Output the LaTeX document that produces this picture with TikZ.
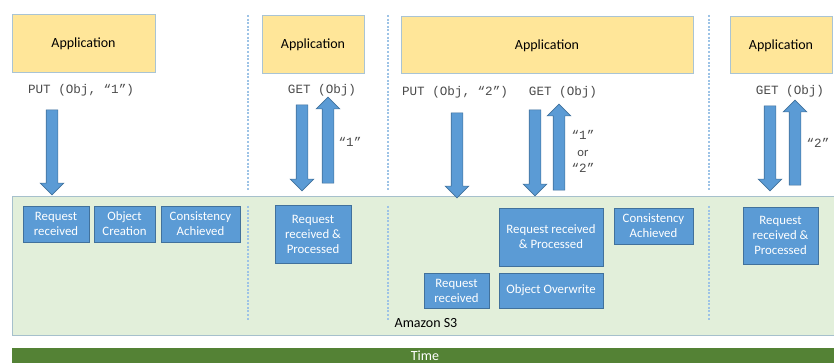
\documentclass[tikz,border=0pt]{standalone}
\usepackage{fontspec}
\setmainfont{Carlito}
\newfontfamily\codefont{Liberation Mono}
\usetikzlibrary{shapes.arrows}
\definecolor{appfill}{HTML}{FFE699}
\definecolor{appline}{HTML}{A9C4D4}
\definecolor{sthreefill}{HTML}{E2EFDA}
\definecolor{sthreeline}{HTML}{A6C0CC}
\definecolor{stepfill}{HTML}{5B9BD5}
\definecolor{stepline}{HTML}{41719C}
\definecolor{timefill}{HTML}{548235}
\definecolor{sepline}{HTML}{9DC3E6}
\definecolor{codegray}{HTML}{4A4A4A}
\tikzset{
  appbox/.style={draw=appline, line width=1pt, fill=appfill, inner sep=0pt,
    font=\fontsize{14}{16}\selectfont},
  stepbox/.style={draw=stepline, line width=0.8pt, fill=stepfill, inner sep=0pt,
    text=white, align=center, font=\fontsize{12.8}{15}\selectfont},
  codetext/.style={text=codegray, font=\codefont\fontsize{12.6}{14}\selectfont, inner sep=0pt},
  reply/.style={text=codegray, align=center, inner sep=0pt,
    font=\fontsize{12.6}{16.5}\selectfont},
  blockarrow/.style={single arrow, draw=stepline, line width=0.6pt, fill=stepfill,
    inner xsep=0pt, inner ysep=5.5pt, single arrow head extend=6pt,
    single arrow tip angle=90},
  downarrow/.style={blockarrow, rotate=-90},
  uparrow/.style={blockarrow, rotate=90},
  separator/.style={sepline, line width=1.1pt, dash pattern=on 2pt off 1.6pt},
}
\begin{document}
\begin{tikzpicture}[x=1pt, y=-1pt]
\useasboundingbox (0,0) rectangle (834,363);

% storage layer and time line
\path[fill=sthreefill, draw=sthreeline, line width=1pt] (12,197) rectangle (838,335);
\node[inner sep=0pt, font=\fontsize{14}{16}\selectfont] (s3) at (426,323) {Amazon S3};
\path[fill=timefill] (12,348) rectangle (836,364);
\node[inner sep=0pt, text=white, font=\fontsize{14}{16}\selectfont] (time) at (425,356) {Time};

% separators between the request phases
\foreach \sx in {248,388,709} {
  \draw[separator] (\sx,15) -- (\sx,191);
  \draw[separator] (\sx,206) -- (\sx,321);
}

% applications
\node[appbox, minimum width=143pt, minimum height=58pt] (app1) at (83.5,44) {Application};
\node[appbox, minimum width=102pt, minimum height=58pt] (app2) at (313,45) {Application};
\node[appbox, minimum width=292pt, minimum height=57pt] (app3) at (547,45.5) {Application};
\node[appbox, minimum width=102pt, minimum height=57pt] (app4) at (781,45.5) {Application};

% requests
\node[codetext] (put1) at (81,90) {PUT (Obj, “1”)};
\node[codetext] (get1) at (322,90) {GET (Obj)};
\node[codetext] (put2) at (455,92) {PUT (Obj, “2”)};
\node[codetext] (get2) at (563,92) {GET (Obj)};
\node[codetext] (get3) at (790,91) {GET (Obj)};

% request and reply arrows
\node[downarrow, minimum height=85pt] (a1) at (52,149.5) {};
\node[downarrow, minimum height=86pt] (a2) at (302,145) {};
\node[uparrow, minimum height=86pt] (a3) at (328,143) {};
\node[downarrow, minimum height=85pt] (a4) at (457,152.5) {};
\node[downarrow, minimum height=86pt] (a5) at (535,150) {};
\node[uparrow, minimum height=86pt] (a6) at (559,150) {};
\node[downarrow, minimum height=85pt] (a7) at (770,145.5) {};
\node[uparrow, minimum height=85pt] (a8) at (795,145.5) {};

% returned values
\node[codetext] (r1) at (350,142) {“1”};
\node[reply] (r2) at (583,151.5) {{\codefont “1”}\\or\\{\codefont “2”}};
\node[codetext] (r3) at (818,143) {“2”};

% steps inside the storage layer
\node[stepbox, minimum width=66pt, minimum height=36pt] (s1) at (56,224) {Request\\received};
\node[stepbox, minimum width=61pt, minimum height=36pt] (s2) at (124.5,224) {Object\\Creation};
\node[stepbox, minimum width=79pt, minimum height=36pt] (s3c) at (200.5,224) {Consistency\\Achieved};
\node[stepbox, minimum width=76pt, minimum height=58pt] (s4) at (313,234) {Request\\received \&\\Processed};
\node[stepbox, minimum width=104pt, minimum height=58pt] (s5) at (551,237) {Request received\\\& Processed};
\node[stepbox, minimum width=79pt, minimum height=36pt] (s6) at (653.5,226) {Consistency\\Achieved};
\node[stepbox, minimum width=65pt, minimum height=35pt] (s7) at (456.5,290.5) {Request\\received};
\node[stepbox, minimum width=104pt, minimum height=35pt] (s8) at (551,290.5) {Object Overwrite};
\node[stepbox, minimum width=75pt, minimum height=57pt] (s9) at (780.5,235.5) {Request\\received \&\\Processed};
\end{tikzpicture}
\end{document}
